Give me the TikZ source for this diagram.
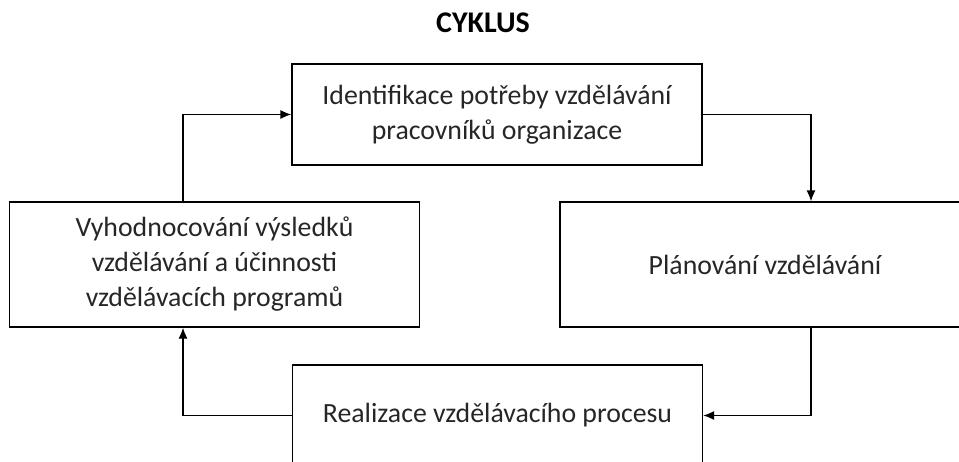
\documentclass[tikz,border=0pt]{standalone}
\usepackage{fontspec}
\setmainfont{Carlito}
\usetikzlibrary{arrows.meta}
\definecolor{txtgray}{HTML}{262626}
\tikzset{
  box/.style = {draw, line width=1.3pt, minimum width=410pt, text=txtgray, align=center,
    font=\fontsize{27.8}{35}\selectfont},
  arr/.style = {line width=1.3pt, -{Latex[length=11pt,width=9pt]}}
}

\begin{document}
\begin{tikzpicture}[x=1pt,y=-1pt]
  \useasboundingbox (0,0) rectangle (959,461);

  \node (title) at (483,23) {\fontsize{30}{35}\selectfont\bfseries CYKLUS};

  \node[box, minimum height=101pt] (ident) at (497,114.5) {Identifikace potřeby vzdělávání\\pracovníků organizace};
  \node[box, minimum height=125pt] (plan) at (765,264.5) {Plánování vzdělávání};
  \node[box, minimum height=101pt] (real) at (497.5,415.5) {Realizace vzdělávacího procesu};
  \node[box, minimum height=125pt] (eval) at (214.5,264.5) {Vyhodnocování výsledků\\vzdělávání a účinnosti\\vzdělávacích programů};

  % cyklus
  \draw[arr] (ident.east) -| ([xshift=46pt]plan.north);
  \draw[arr] ([xshift=46pt]plan.south) |- (real.east);
  \draw[arr] (real.west) -| ([xshift=-31.5pt]eval.south);
  \draw[arr] ([xshift=-31.5pt]eval.north) |- (ident.west);
\end{tikzpicture}
\end{document}
